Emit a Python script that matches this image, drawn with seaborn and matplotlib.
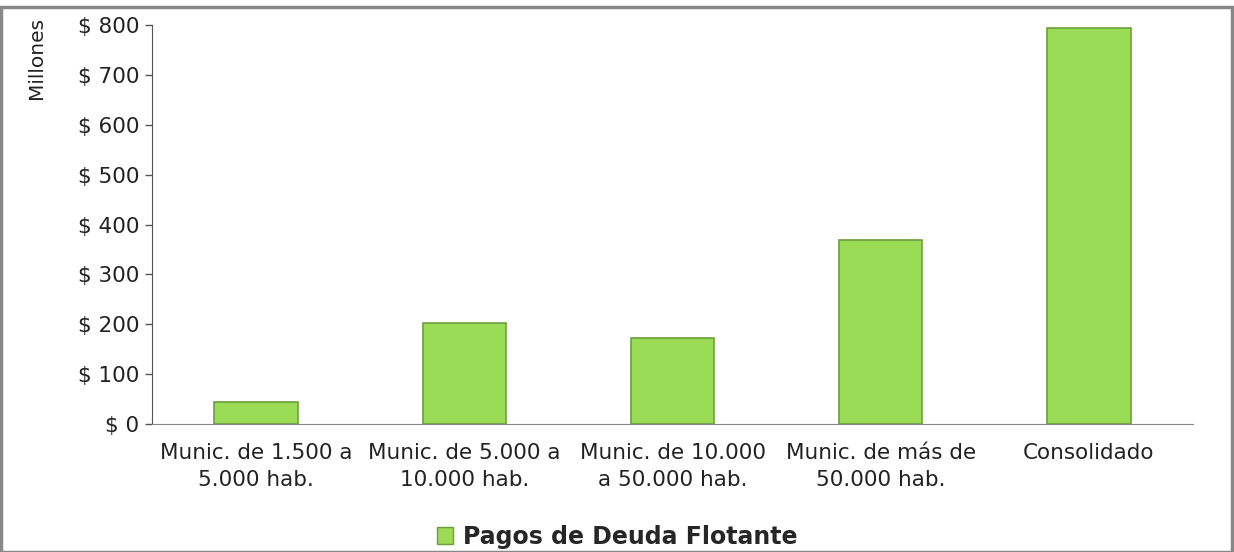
import matplotlib
matplotlib.use("Agg")
import matplotlib.pyplot as plt
import seaborn as sns
import pandas as pd
from matplotlib.patches import Rectangle, Patch

categories = ["Munic. de 1.500 a\n5.000 hab.", "Munic. de 5.000 a\n10.000 hab.",
              "Munic. de 10.000\na 50.000 hab.", "Munic. de más de\n50.000 hab.",
              "Consolidado"]
values = [44, 202, 172, 368, 793]
yticks = [0, 100, 200, 300, 400, 500, 600, 700, 800]
ytick_labels = ["$ 0", "$ 100", "$ 200", "$ 300", "$ 400", "$ 500", "$ 600", "$ 700", "$ 800"]
series_name = "Pagos de Deuda Flotante"

sns.set_style("white")
plt.rcParams['font.family'] = ['DejaVu Sans']

df = pd.DataFrame({"cat": categories, "val": values})

fig = plt.figure(figsize=(12.34, 5.52), dpi=100)
ax = fig.add_axes([152/1234, 1-424/552, (1193-152)/1234, (424-25)/552])

sns.barplot(data=df, x="cat", y="val", ax=ax, color="#9BDC57", width=0.4,
            edgecolor="#6E9E3C", linewidth=1.2, saturation=1)

ax.set_ylim(0, 800)
ax.set_xlim(-0.5, 4.5)
ax.set_yticks(yticks)
ax.set_yticklabels(ytick_labels, fontsize=15.5, color="#222222")
ax.set_xticks(range(len(categories)))
ax.set_xticklabels(categories, fontsize=15.5, color="#222222", linespacing=1.4)
ax.set_xticks([i - 0.5 for i in range(len(categories) + 1)], minor=True)
ax.tick_params(axis="x", which="major", length=0, pad=14)
ax.tick_params(axis="x", which="minor", length=6, width=1, color="#888888", direction="out")
ax.tick_params(axis="y", which="major", length=5, width=1, color="#555555", direction="out", left=True, pad=4)
ax.set_xlabel("")
ax.set_ylabel("")
for s in ["top", "right"]:
    ax.spines[s].set_visible(False)
ax.spines["left"].set_color("#555555")
ax.spines["bottom"].set_color("#888888")
ax.grid(False)

fig.text(37/1234, 1-58/552, "Millones", rotation=90, fontsize=14.5, ha="center", va="center", color="#222222")

handle = Patch(facecolor="#9BDC57", edgecolor="#6E9E3C", label=series_name)
leg = fig.legend(handles=[handle], loc="center", bbox_to_anchor=(0.5, 1-537/552), frameon=False,
                 prop={"weight": "bold", "size": 17}, handlelength=0.7, handleheight=0.7, handletextpad=0.4)

fig.patches.append(Rectangle((0.001, 0.0), 0.997, 0.988, transform=fig.transFigure, fill=False,
                             edgecolor="#888888", linewidth=2.5))

fig.savefig("out.png", dpi=100)
